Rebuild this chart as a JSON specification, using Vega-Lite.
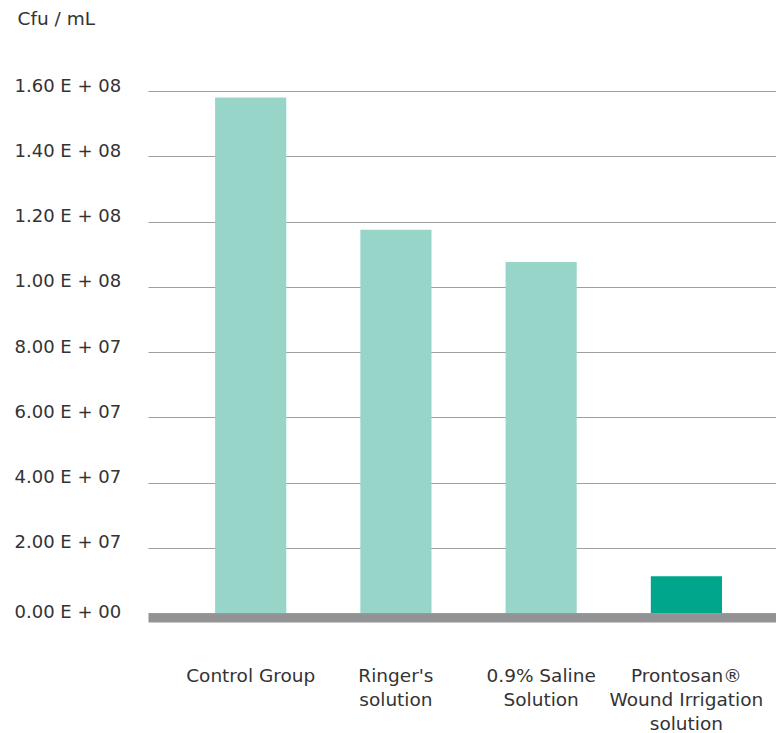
{
  "$schema": "https://vega.github.io/schema/vega-lite/v6.json",
  "autosize": "none",
  "width": 628,
  "height": 522,
  "padding": {"left": 148, "top": 91, "right": 0, "bottom": 120},
  "background": "white",
  "config": {
    "view": {"stroke": null},
    "font": "DejaVu Sans"
  },
  "data": {
    "values": [
      {"group": "Control Group", "cfu": 158000000, "kind": "other"},
      {"group": "Ringer's|solution", "cfu": 117500000, "kind": "other"},
      {"group": "0.9% Saline|Solution", "cfu": 107600000, "kind": "other"},
      {"group": "Prontosan®|Wound Irrigation|solution", "cfu": 11300000, "kind": "prontosan"}
    ]
  },
  "mark": {"type": "bar"},
  "encoding": {
    "x": {
      "field": "group",
      "type": "nominal",
      "sort": null,
      "scale": {"paddingInner": 0.51, "paddingOuter": 0.417, "align": 0.554},
      "axis": {
        "title": null,
        "labelAngle": 0,
        "labelExpr": "split(datum.value, '|')",
        "labelFont": "DejaVu Sans",
        "labelFontSize": 18.5,
        "labelColor": "#333333",
        "labelLineHeight": 24,
        "labelBaseline": "middle",
        "labelPadding": 58,
        "ticks": false,
        "domain": true,
        "domainColor": "#939395",
        "domainWidth": 9,
        "offset": 4.5,
        "grid": false
      }
    },
    "y": {
      "field": "cfu",
      "type": "quantitative",
      "scale": {"domain": [0, 160000000], "nice": false},
      "axis": {
        "values": [0, 20000000, 40000000, 60000000, 80000000, 100000000, 120000000, 140000000, 160000000],
        "labelExpr": "datum.value == 0 ? '0.00 E + 00' : (datum.value < 100000000 ? format(datum.value / 10000000, '.2f') + ' E + 07' : format(datum.value / 100000000, '.2f') + ' E + 08')",
        "labelAlign": "left",
        "labelBaseline": "alphabetic",
        "labelOffset": {"condition": {"test": "datum.value == 0", "value": 4}, "value": 0},
        "labelPadding": 134,
        "labelFont": "DejaVu Sans",
        "labelFontSize": 18,
        "labelColor": "#333333",
        "ticks": false,
        "domain": false,
        "grid": true,
        "gridColor": "#a0a0a0",
        "gridWidth": 1,
        "title": "Cfu / mL",
        "titleAngle": 0,
        "titleAlign": "left",
        "titleBaseline": "middle",
        "titleX": -131,
        "titleY": -73,
        "titleFont": "DejaVu Sans",
        "titleFontSize": 18.5,
        "titleFontWeight": "normal",
        "titleColor": "#333333"
      }
    },
    "color": {
      "field": "kind",
      "type": "nominal",
      "scale": {"domain": ["other", "prontosan"], "range": ["#98d5c9", "#00a68b"]},
      "legend": null
    }
  }
}
